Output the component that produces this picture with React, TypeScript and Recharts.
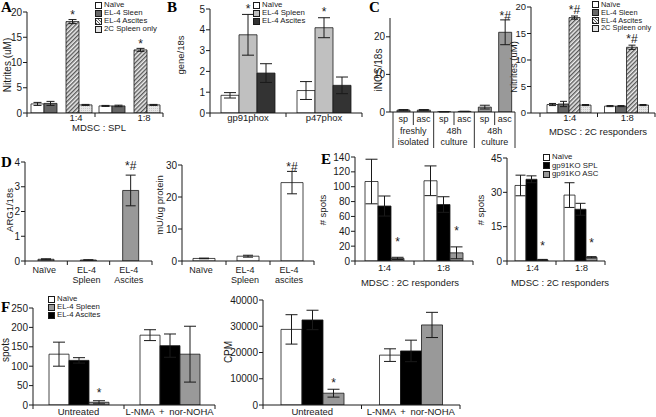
import React from 'react';
import { BarChart, Bar, XAxis, YAxis, ErrorBar, LabelList } from 'recharts';

const FONT = '"Liberation Sans", Arial, Helvetica, sans-serif';
const SERIF = '"Liberation Serif", "Times New Roman", serif';
const INK = '#1a1a1a';

// ---------- Panel A ----------
const aCats = ['1:4', '1:8'];
const aNaive = [1.8, 1.4];
const aNaiveErr = [0.3, 0.1];
const aSleen = [1.9, 1.4];
const aSleenErr = [0.4, 0.15];
const aAscites = [18.1, 12.5];
const aAscitesErr = [0.4, 0.3];
const aSpleenOnly = [1.6, 1.6];
const aSpleenOnlyErr = [0.1, 0.1];
const aSig = ['*', '*'];
const aYTicks = [0, 5, 10, 15, 20];

// ---------- Panel B ----------
const bCats = ['gp91phox', 'p47phox'];
const bNaive = [0.85, 1.08];
const bNaiveErr = [0.13, 0.43];
const bSpleen = [3.76, 4.1];
const bSpleenErr = [0.98, 0.48];
const bAscites = [1.92, 1.33];
const bAscitesErr = [0.45, 0.4];
const bSig = ['*', '*'];
const bYTicks = [0, 1, 2, 3, 4, 5];

// ---------- Panel C (left) ----------
const cCats = ['sp', 'asc', 'sp', 'asc', 'sp', 'asc'];
const cGroups = ['freshly\nisolated', '48h\nculture', '48h\nculture'];
const cInos = [0.5, 0.5, 0.05, 0.15, 1.3, 21.2];
const cInosErr = [0.15, 0.15, 0.01, 0.05, 0.5, 3.3];
const cSig = ['', '', '', '', '', '*#'];
const cYTicks = [0, 10, 20];

// ---------- Panel C (right) ----------
const crCats = ['1:4', '1:8'];
const crNaive = [1.6, 1.3];
const crNaiveErr = [0.2, 0.1];
const crSleen = [1.7, 1.3];
const crSleenErr = [0.5, 0.1];
const crAscites = [18.0, 12.4];
const crAscitesErr = [0.3, 0.4];
const crSpleenOnly = [1.5, 1.5];
const crSpleenOnlyErr = [0.1, 0.1];
const crSig = ['*#', '*#'];
const crYTicks = [0, 5, 10, 15, 20];

// ---------- Panel D ----------
const dCats = ['Naïve', 'EL-4\nSpleen', 'EL-4\nAscites'];
const dArg1 = [0.07, 0.04, 2.85];
const dArg1Err = [0.02, 0.01, 0.62];
const dArg1Sig = ['', '', '*#'];
const dYTicks = [0, 1, 2, 3, 4];

const drCats = ['Naïve', 'EL-4\nSpleen', 'EL-4\nascites'];
const drArg = [0.8, 1.5, 24.5];
const drArgErr = [0.1, 0.3, 3.5];
const drSig = ['', '', '*#'];
const drYTicks = [0, 10, 20, 30];

// ---------- Panel E ----------
const eCats = ['1:4', '1:8'];
const eNaive = [107, 108];
const eNaiveErr = [30, 20];
const eSpl = [74, 76];
const eSplErr = [13.5, 10.5];
const eAsc = [3.5, 11];
const eAscErr = [1.5, 8];
const eSig = ['*', '*'];
const eYTicks = [0, 20, 40, 60, 80, 100, 120, 140];

const erNaive = [33, 28.8];
const erNaiveErr = [4.5, 5.4];
const erSpl = [35.7, 22.6];
const erSplErr = [1.5, 2.6];
const erAsc = [0.5, 1.6];
const erAscErr = [0.2, 0.3];
const erSig = ['*', '*'];
const erYTicks = [0, 15, 30, 45];

// ---------- Panel F ----------
const fCats = ['Untreated', 'L-NMA + nor-NOHA'];
const fNaive = [131, 180];
const fNaiveErr = [31, 14];
const fAscites = [115, 153];
const fAscitesErr = [7, 30];
const fSpleen = [7, 131];
const fSpleenErr = [4, 72];
const fSig = ['*', ''];
const fYTicks = [0, 50, 100, 150, 200, 250];

const frNaive = [28800, 19000];
const frNaiveErr = [5600, 2400];
const frAscites = [32400, 20600];
const frAscitesErr = [3700, 4100];
const frSpleen = [4500, 30500];
const frSpleenErr = [1500, 4800];
const frSig = ['*', ''];
const frYTicks = [0, 10000, 20000, 30000, 40000];

// ---------- Legends ----------
const nitriteLegend = ['Naïve', 'EL-4 Sleen', 'EL-4 Ascites', '2C Spleen only'];
const bLegend = ['Naïve', 'EL-4 Spleen', 'EL-4 Ascites'];
const eLegend = ['Naïve', 'gp91KO SPL', 'gp91KO ASC'];
const fLegend = ['Naïve', 'EL-4 Spleen', 'EL-4 Ascites'];

// ---------- Data tables ----------
const aData = aCats.map((c, i) => ({
  cat: c, label: c,
  naive: aNaive[i], naiveErr: aNaiveErr[i],
  sleen: aSleen[i], sleenErr: aSleenErr[i],
  ascites: aAscites[i], ascitesErr: aAscitesErr[i], sig: aSig[i],
  only: aSpleenOnly[i], onlyErr: aSpleenOnlyErr[i],
}));
const bData = bCats.map((c, i) => ({
  cat: c, label: c,
  naive: bNaive[i], naiveErr: bNaiveErr[i],
  spleen: bSpleen[i], spleenErr: bSpleenErr[i], sig: bSig[i],
  ascites: bAscites[i], ascitesErr: bAscitesErr[i],
}));
const cData = cCats.map((c, i) => ({
  cat: `c${i}`, label: c, group: cGroups[Math.floor(i / 2)],
  inos: cInos[i], inosErr: cInosErr[i], sig: cSig[i],
}));
const crData = crCats.map((c, i) => ({
  cat: c, label: c,
  naive: crNaive[i], naiveErr: crNaiveErr[i],
  sleen: crSleen[i], sleenErr: crSleenErr[i],
  ascites: crAscites[i], ascitesErr: crAscitesErr[i], sig: crSig[i],
  only: crSpleenOnly[i], onlyErr: crSpleenOnlyErr[i],
}));
const dData = dCats.map((c, i) => ({ cat: `d${i}`, label: c, v: dArg1[i], vErr: dArg1Err[i], sig: dArg1Sig[i] }));
const drData = drCats.map((c, i) => ({ cat: `r${i}`, label: c, v: drArg[i], vErr: drArgErr[i], sig: drSig[i] }));
const eData = eCats.map((c, i) => ({
  cat: c, label: c,
  naive: eNaive[i], naiveErr: eNaiveErr[i],
  spl: eSpl[i], splErr: eSplErr[i],
  asc: eAsc[i], ascErr: eAscErr[i], sig: eSig[i],
}));
const erData = eCats.map((c, i) => ({
  cat: c, label: c,
  naive: erNaive[i], naiveErr: erNaiveErr[i],
  spl: erSpl[i], splErr: erSplErr[i],
  asc: erAsc[i], ascErr: erAscErr[i], sig: erSig[i],
}));
const fData = fCats.map((c, i) => ({
  cat: c, label: c,
  naive: fNaive[i], naiveErr: fNaiveErr[i],
  ascites: fAscites[i], ascitesErr: fAscitesErr[i],
  spleen: fSpleen[i], spleenErr: fSpleenErr[i], sig: fSig[i],
}));
const frData = fCats.map((c, i) => ({
  cat: c, label: c,
  naive: frNaive[i], naiveErr: frNaiveErr[i],
  ascites: frAscites[i], ascitesErr: frAscitesErr[i],
  spleen: frSpleen[i], spleenErr: frSpleenErr[i], sig: frSig[i],
}));

// ---------- Generic panel ----------
type Series = { key: string; fill: string; err?: string; sig?: string; barSize?: number; ghost?: boolean };
type Ctx = { catW: number; axisY: number; n: number; data: any[] };

const YW = 42, MT = 12, MR = 4, XH = 46;

const defaultTick = (dx: number, dy: number, fs: number, lh: number, ws = 0) => (tp: any, ctx: Ctx) => {
  const x = Number(tp.x);
  const index = tp.index;
  const d = ctx.data[index] || {};
  const lines = String(d.label ?? '').split('\n');
  const bx = x - ctx.catW / 2;
  const ex = x + ctx.catW / 2;
  return (
    <g>
      <line x1={bx} x2={bx} y1={ctx.axisY} y2={ctx.axisY + 4} stroke={INK} strokeWidth={1} />
      {index === ctx.n - 1 ? <line x1={ex} x2={ex} y1={ctx.axisY} y2={ctx.axisY + 4} stroke={INK} strokeWidth={1} /> : null}
      <text x={x + dx} y={ctx.axisY + dy} textAnchor="middle" fontSize={fs} fontFamily={FONT} fill={INK} style={{ wordSpacing: ws }}>
        {lines.map((l, i) => (
          <tspan key={i} x={x + dx} dy={i === 0 ? 0 : lh}>{l}</tspan>
        ))}
      </text>
    </g>
  );
};

const cTick = (tp: any, ctx: Ctx) => {
  const x = Number(tp.x);
  const index = tp.index;
  const d = ctx.data[index] || {};
  const ay = ctx.axisY;
  const bx = x - ctx.catW / 2;
  const ex = x + ctx.catW / 2;
  const groupStart = index % 2 === 0;
  const gl = String(d.group ?? '').split('\n');
  return (
    <g>
      <line x1={bx} x2={bx} y1={ay} y2={ay + (groupStart ? 36 : 13)} stroke={INK} strokeWidth={0.9} />
      {index === ctx.n - 1 ? <line x1={ex} x2={ex} y1={ay} y2={ay + 36} stroke={INK} strokeWidth={0.9} /> : null}
      <text x={x} y={ay + 9.5} textAnchor="middle" fontSize={9} fontFamily={FONT} fill={INK}>{d.label}</text>
      {!groupStart ? (
        <text x={bx} y={ay + 22} textAnchor="middle" fontSize={9} fontFamily={FONT} fill={INK}>
          {gl.map((l, i) => (
            <tspan key={i} x={bx} dy={i === 0 ? 0 : 11}>{l}</tspan>
          ))}
        </text>
      ) : null}
    </g>
  );
};

const sigContent = (data: any[], errKey: string | undefined, ppu: number, dist: number) => (lp: any) => {
  const d = data[lp.index] ?? lp.payload ?? {};
  const s = lp.value ?? d.sig;
  if (!s) return null;
  const e = errKey ? Number(d[errKey] || 0) : 0;
  const x = Number(lp.x) + Number(lp.width) / 2;
  const yTop = Number(lp.y) - e * ppu;
  return (
    <text x={x} y={yTop - dist + 6.5} textAnchor="middle" fontSize={12} fontFamily={FONT} fill={INK}>{s}</text>
  );
};

type PanelProps = {
  id: string;
  x0: number; x1: number; yT: number; yB: number;
  data: any[];
  series: Series[];
  domain: [number, number];
  ticks: number[];
  barSize: number;
  padL?: number; padR?: number;
  cap?: number;
  sigDist?: number;
  yTickFs?: number;
  tick?: (tp: any, ctx: Ctx) => React.ReactElement;
  labelDx?: number; labelDy?: number; labelFs?: number; lineH?: number; wordSpacing?: number;
};

function Panel(p: PanelProps) {
  const left = p.x0 - YW;
  const top = p.yT - MT;
  const width = p.x1 - left + MR;
  const height = p.yB - top + XH;
  const padL = p.padL ?? 0;
  const padR = p.padR ?? 0;
  const catW = (p.x1 - p.x0 - padL - padR) / p.data.length;
  const axisY = p.yB - top;
  const ppu = (p.yB - p.yT) / (p.domain[1] - p.domain[0]);
  const ctx: Ctx = { catW, axisY, n: p.data.length, data: p.data };
  const base = p.tick ?? defaultTick(p.labelDx ?? 0, p.labelDy ?? 9, p.labelFs ?? 9.5, p.lineH ?? 10, p.wordSpacing ?? 0);
  const tickFn = (tp: any) => base(tp, ctx);
  const hatchId = `hatch-${p.id}`;
  const dotsId = `dots-${p.id}`;
  const fillOf = (f: string) => (f === 'hatch' ? `url(#${hatchId})` : f === 'dots' ? `url(#${dotsId})` : f);
  return (
    <div style={{ position: 'absolute', left, top, width, height }}>
      <BarChart width={width} height={height} data={p.data} margin={{ top: MT, right: MR, left: 0, bottom: 0 }} barGap={0} barCategoryGap={0}>
        <defs>
          <pattern id={hatchId} width={3} height={3} patternUnits="userSpaceOnUse" patternTransform="rotate(45)">
            <rect width={3} height={3} fill="#eeeeee" />
            <rect width={1.4} height={3} fill="#5a5a5a" />
          </pattern>
          <pattern id={dotsId} width={2} height={2} patternUnits="userSpaceOnUse">
            <rect width={2} height={2} fill="#e6e6e6" />
            <rect width={1} height={1} fill="#c8c8c8" />
          </pattern>
        </defs>
        <XAxis dataKey="cat" height={XH} axisLine={{ stroke: INK }} tickLine={false} tick={tickFn} interval={0} padding={{ left: padL, right: padR }} />
        <YAxis width={YW} type="number" domain={p.domain} ticks={p.ticks} interval={0} allowDataOverflow axisLine={{ stroke: INK }} tickLine={{ stroke: INK }} tickSize={4} tickMargin={1} tick={{ fontSize: p.yTickFs ?? 10, fill: INK, fontFamily: FONT }} />
        {p.series.map((s) => (
          <Bar key={s.key} dataKey={s.key} barSize={s.barSize ?? p.barSize} fill={s.ghost ? 'none' : fillOf(s.fill)} stroke={s.ghost ? 'none' : INK} strokeWidth={0.8} isAnimationActive={false}>
            {s.err ? <ErrorBar dataKey={s.err} width={p.cap ?? 4} stroke={INK} strokeWidth={1} /> : null}
            {s.sig ? <LabelList dataKey={s.sig} content={sigContent(p.data, s.err, ppu, p.sigDist ?? 8)} /> : null}
          </Bar>
        ))}
      </BarChart>
    </div>
  );
}

// ---------- HTML helpers ----------
function Txt({ cx, cy, text, fs = 9.5, rotate = false }: { cx: number; cy: number; text: string; fs?: number; rotate?: boolean }) {
  return (
    <div style={{ position: 'absolute', left: cx, top: cy, transform: `translate(-50%, -50%)${rotate ? ' rotate(-90deg)' : ''}`, fontSize: fs, fontFamily: FONT, lineHeight: 1, whiteSpace: 'nowrap', color: INK }}>
      {text}
    </div>
  );
}

function Letter({ x, y, text }: { x: number; y: number; text: string }) {
  return (
    <div style={{ position: 'absolute', left: x, top: y, fontSize: 15, fontWeight: 700, fontFamily: SERIF, lineHeight: 1, color: '#000' }}>{text}</div>
  );
}

const SW_WHITE = '#ffffff';
const SW_HATCH = 'repeating-linear-gradient(45deg, #5a5a5a 0px, #5a5a5a 1px, #eeeeee 1px, #eeeeee 2.2px)';

function Legend({ x, y, rowH, labels, swatches, fs = 7.8 }: { x: number; y: number; rowH: number; labels: string[]; swatches: string[]; fs?: number }) {
  return (
    <div style={{ position: 'absolute', left: x, top: y, fontFamily: FONT, fontSize: fs, color: INK, lineHeight: `${rowH}px` }}>
      {labels.map((l, i) => (
        <div key={l + i} style={{ display: 'flex', alignItems: 'center', height: rowH, whiteSpace: 'nowrap' }}>
          <span style={{ display: 'inline-block', width: 7, height: 7, boxSizing: 'border-box', border: `1px solid ${INK}`, background: swatches[i], marginRight: 2 }} />
          {l}
        </div>
      ))}
    </div>
  );
}

export default function App() {
  return (
    <div style={{ position: 'absolute', left: 0, top: 0, width: 656, height: 417, background: '#fff', overflow: 'hidden' }}>
      {/* A */}
      <Panel id="a" x0={27} x1={163} yT={12} yB={113} data={aData} domain={[0, 20]} ticks={aYTicks} barSize={13} cap={4} sigDist={7} labelDx={15} labelDy={7.5}
        series={[
          { key: 'naive', fill: '#ffffff', err: 'naiveErr' },
          { key: 'sleen', fill: '#666666', err: 'sleenErr' },
          { key: 'gap', fill: 'none', ghost: true, barSize: 9 },
          { key: 'ascites', fill: 'hatch', err: 'ascitesErr', sig: 'sig' },
          { key: 'only', fill: 'dots', err: 'onlyErr' },
        ]} />
      {/* B */}
      <Panel id="b" x0={210} x1={362} yT={9} yB={113} data={bData} domain={[0, 5]} ticks={bYTicks} barSize={18} cap={6} sigDist={8} labelDy={8}
        series={[
          { key: 'naive', fill: '#ffffff', err: 'naiveErr' },
          { key: 'spleen', fill: '#c0c0c0', err: 'spleenErr', sig: 'sig' },
          { key: 'ascites', fill: '#333333', err: 'ascitesErr' },
        ]} />
      {/* C left */}
      <Panel id="c" x0={390} x1={515} padL={3} yT={18} yB={112} data={cData} domain={[0, 25]} ticks={cYTicks} barSize={13} cap={5} sigDist={6} tick={cTick}
        series={[{ key: 'inos', fill: '#999999', err: 'inosErr', sig: 'sig' }]} />
      {/* C right */}
      <Panel id="cr" x0={531} x1={655} padL={9} yT={7} yB={113} data={crData} domain={[0, 20]} ticks={crYTicks} barSize={11} cap={3.5} sigDist={9} labelDx={1} labelDy={8} yTickFs={9.5}
        series={[
          { key: 'naive', fill: '#ffffff', err: 'naiveErr' },
          { key: 'sleen', fill: '#666666', err: 'sleenErr' },
          { key: 'ascites', fill: 'hatch', err: 'ascitesErr', sig: 'sig' },
          { key: 'only', fill: 'dots', err: 'onlyErr' },
        ]} />
      {/* D left */}
      <Panel id="d" x0={25} x1={152} yT={162} yB={261} data={dData} domain={[0, 4]} ticks={dYTicks} barSize={16} cap={5} sigDist={12} labelDx={-2} labelDy={12} labelFs={9} lineH={10}
        series={[{ key: 'v', fill: '#999999', err: 'vErr', sig: 'sig' }]} />
      {/* D right */}
      <Panel id="dr" x0={182} x1={314} yT={165} yB={261} data={drData} domain={[0, 30]} ticks={drYTicks} barSize={22} cap={5} sigDist={7} labelDx={-3} labelDy={12} labelFs={9} lineH={10}
        series={[{ key: 'v', fill: '#ffffff', err: 'vErr', sig: 'sig' }]} />
      {/* E left */}
      <Panel id="e" x0={355} x1={473} yT={157} yB={261} data={eData} domain={[0, 140]} ticks={eYTicks} barSize={13} cap={6} sigDist={18} labelDy={10}
        series={[
          { key: 'naive', fill: '#ffffff', err: 'naiveErr' },
          { key: 'spl', fill: '#000000', err: 'splErr' },
          { key: 'asc', fill: '#999999', err: 'ascErr', sig: 'sig' },
        ]} />
      {/* E right */}
      <Panel id="er" x0={507} x1={605} yT={158} yB={261} data={erData} domain={[0, 45]} ticks={erYTicks} barSize={11} cap={5} sigDist={16} labelDx={1} labelDy={10}
        series={[
          { key: 'naive', fill: '#ffffff', err: 'naiveErr' },
          { key: 'spl', fill: '#000000', err: 'splErr' },
          { key: 'asc', fill: '#999999', err: 'ascErr', sig: 'sig' },
        ]} />
      {/* F left */}
      <Panel id="f" x0={33} x1={215} yT={308} yB={405} data={fData} domain={[0, 250]} ticks={fYTicks} barSize={20} cap={6} sigDist={10} labelDy={9.5} wordSpacing={2}
        series={[
          { key: 'naive', fill: '#ffffff', err: 'naiveErr' },
          { key: 'ascites', fill: '#000000', err: 'ascitesErr' },
          { key: 'spleen', fill: '#999999', err: 'spleenErr', sig: 'sig' },
        ]} />
      {/* F right */}
      <Panel id="fr" x0={263} x1={460} yT={300} yB={405} data={frData} domain={[0, 40000]} ticks={frYTicks} barSize={21} cap={6} sigDist={9} labelDy={9.5} wordSpacing={2}
        series={[
          { key: 'naive', fill: '#ffffff', err: 'naiveErr' },
          { key: 'ascites', fill: '#000000', err: 'ascitesErr' },
          { key: 'spleen', fill: '#999999', err: 'spleenErr', sig: 'sig' },
        ]} />

      {/* panel letters */}
      <Letter x={1} y={0} text="A" />
      <Letter x={167} y={0} text="B" />
      <Letter x={369} y={0} text="C" />
      <Letter x={1} y={155} text="D" />
      <Letter x={321} y={152} text="E" />
      <Letter x={1} y={300} text="F" />

      {/* y-axis titles */}
      <Txt cx={8} cy={65} text="Nitrites (uM)" fs={10} rotate />
      <Txt cx={181} cy={55} text="gene/18s" fs={9.5} rotate />
      <Txt cx={379} cy={70} text="iNOS/18s" fs={10} rotate />
      <Txt cx={514} cy={67} text="Nitrites (uM)" fs={9.5} rotate />
      <Txt cx={10} cy={210} text="ARG1/18s" fs={9.5} rotate />
      <Txt cx={160} cy={205} text="mU/ug protein" fs={9.5} rotate />
      <Txt cx={323} cy={210} text="# spots" fs={9.5} rotate />
      <Txt cx={481} cy={210} text="# spots" fs={9.5} rotate />
      <Txt cx={6} cy={350} text="spots" fs={10} rotate />
      <Txt cx={229} cy={352} text="CPM" fs={10} rotate />

      {/* x-axis titles */}
      <Txt cx={99} cy={127.5} text="MDSC : SPL" fs={9.5} />
      <Txt cx={598} cy={132} text="MDSC : 2C responders" fs={9.5} />
      <Txt cx={410} cy={283} text="MDSC : 2C responders" fs={9.5} />
      <Txt cx={560} cy={283} text="MDSC : 2C responders" fs={9.5} />

      {/* legends */}
      <Legend x={95} y={1} rowH={8} labels={nitriteLegend} swatches={[SW_WHITE, '#666666', SW_HATCH, '#e2e2e2']} />
      <Legend x={253} y={1} rowH={8.2} labels={bLegend} swatches={[SW_WHITE, '#c0c0c0', '#333333']} />
      <Legend x={592} y={1} rowH={7.8} fs={7.4} labels={nitriteLegend} swatches={[SW_WHITE, '#666666', SW_HATCH, '#e2e2e2']} />
      <Legend x={543} y={153} rowH={8.5} labels={eLegend} swatches={[SW_WHITE, '#000000', '#999999']} />
      <Legend x={48} y={295} rowH={8} labels={fLegend} swatches={[SW_WHITE, '#999999', '#000000']} />
    </div>
  );
}
